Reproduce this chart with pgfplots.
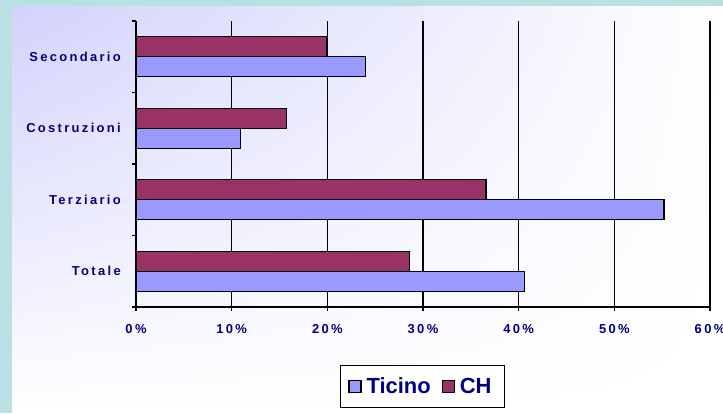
\documentclass[border=0pt]{standalone}
\usepackage{fontspec}
\setmainfont{Liberation Sans}
\newfontfamily\spaced[LetterSpace=18]{Liberation Sans}
\usepackage{pgfplots}
\pgfplotsset{compat=1.18}
\usetikzlibrary{shadings}
\definecolor{ticino}{RGB}{153,153,255}
\definecolor{chred}{RGB}{153,51,102}
\definecolor{navy}{RGB}{0,0,128}
\definecolor{frame}{RGB}{185,224,226}
\definecolor{lav}{RGB}{210,210,252}

\begin{document}
\begin{tikzpicture}[x=1bp,y=1bp]
\fill[frame] (0,0) rectangle (723,413);
\shade[upper left=lav, upper right=white, lower left=white, lower right=white] (12,0) rectangle (723,406);
\begin{axis}[
    at={(136bp,106bp)}, anchor=south west,
    scale only axis, width=574bp, height=286bp,
    xbar=0pt, bar width=20bp,
    xmin=0, xmax=60, ymin=0.5, ymax=4.5,
    xtick={0,10,...,60},
    xticklabels={0\%,10\%,20\%,30\%,40\%,50\%,60\%},
    ytick={0.5,1.5,2.5,3.5,4.5}, yticklabels={},
    extra y ticks={1,2,3,4},
    extra y tick labels={Totale,Terziario,Costruzioni,Secondario},
    extra y tick style={major tick length=0pt},
    xmajorgrids, major grid style={black, line width=1.3bp},
    axis lines*=left,
    axis line style={black, line width=1.5bp, -},
    tick style={black, line width=1.2bp},
    tick align=outside, major tick length=4bp,
    tick label style={text=navy, font=\spaced\bfseries\fontsize{13}{15}\selectfont},
    yticklabel style={inner sep=0pt, xshift=-15bp},
    xticklabel style={inner sep=0pt, yshift=-13bp},
    legend columns=2,
    legend style={at={(0.499,-0.278)}, anchor=center, draw=black, line width=1.2bp,
        fill=white, text=navy, font=\bfseries\fontsize{22}{24}\selectfont,
        inner xsep=8bp, inner ysep=9bp,
        nodes={inner xsep=5bp, inner ysep=3bp},
        /tikz/every even column/.append style={column sep=6bp}},
    legend image code/.code={\draw[#1, draw=black, line width=1.2bp] (0bp,-6bp) rectangle (12bp,6bp);},
]
\addplot[fill=ticino, draw=black, line width=1.4bp] coordinates {(40.6,1) (55.2,2) (10.9,3) (24.0,4)};
\addplot[fill=chred, draw=black, line width=1.4bp] coordinates {(28.6,1) (36.6,2) (15.7,3) (19.9,4)};
\legend{Ticino,CH}
\end{axis}
\pgfresetboundingbox
\useasboundingbox (0,0) rectangle (723,413);
\end{tikzpicture}
\end{document}
